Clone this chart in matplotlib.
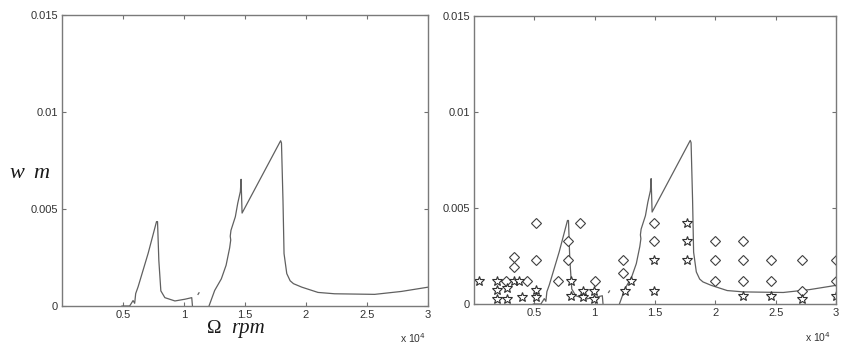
import numpy as np
import matplotlib
matplotlib.use("Agg")
import matplotlib.pyplot as plt

# ---- response curve (segments separated by NaN) ----
curve_x = [4918, 5545, 5825, 5957, 6040, 6238, 7063, 7747, 7830, 7937, 8102, 8432, 9257, 10083, 10635, 10693,
           np.nan, 11150, 11230,
           np.nan, 12050, 12514, 13060, 13450, 13743, 13830, 13790, 13850, 14208, 14406, 14620, 14678, 14760,
           17921, 17990, 18115, 18200, 18424, 18700, 18976, 19662, 20984, 22350, 25628, 27814, 30000]
curve_y = [0.0, 0.0, 0.00028, 0.00014, 0.00064, 0.00099, 0.00272, 0.00435, 0.00435, 0.00235, 0.00078, 0.00043,
           0.00026, 0.00035, 0.00043, 0.0,
           np.nan, 0.0006, 0.00068,
           np.nan, 0.0, 0.0008, 0.0014, 0.0021, 0.0030, 0.0034, 0.0036, 0.0039, 0.0046, 0.0053, 0.0059, 0.00653,
           0.00479,
           0.00852, 0.0084, 0.0054, 0.0027, 0.00167, 0.0013, 0.00115, 0.00097, 0.0007, 0.00063, 0.0006,
           0.00075, 0.00097]

# ---- diamond markers ----
dia_x = [2658, 3297, 3297, 4402, 5150, 5150, 6950, 7800, 7800, 8760, 10000, 12327, 12327,
         14958, 14958, 19945, 19945, 19945, 22300, 22300, 22300, 24654, 24654, 27147, 27147, 30000, 30000]
dia_y = [0.00118, 0.00246, 0.00191, 0.00118, 0.0042, 0.00228, 0.0012, 0.0033, 0.00228, 0.0042, 0.00118,
         0.00228, 0.00164, 0.0042, 0.0033, 0.0033, 0.00228, 0.0012, 0.0033, 0.00228, 0.0012, 0.00228, 0.0012,
         0.00228, 0.00069, 0.00228, 0.00118]

# ---- star markers ----
star_x = [443, 1870, 1870, 1900, 2741, 2741, 3297, 3765, 3959, 5150, 5150,
          8033, 8033, 9003, 9003, 9972, 9972, 12521, 13019, 14958, 14958,
          17645, 17645, 17645, 22300, 24654, 27147, 30000]
star_y = [0.00118, 0.00118, 0.00072, 0.00028, 0.00082, 0.00028, 0.00118, 0.00118, 0.00038, 0.00073, 0.00035,
          0.00118, 0.0004, 0.00069, 0.00035, 0.00069, 0.00026, 0.00069, 0.00118, 0.0023, 0.00069,
          0.0042, 0.0033, 0.0023, 0.0004, 0.0004, 0.00026, 0.0004]

xticks = [5000, 10000, 15000, 20000, 25000, 30000]
xticklabels = ["0.5", "1", "1.5", "2", "2.5", "3"]
yticks = [0, 0.005, 0.01, 0.015]
yticklabels = ["0", "0.005", "0.01", "0.015"]

fig = plt.figure(figsize=(8.47, 3.58), dpi=100)
W, H = 847, 358

def make_ax(l, r, t, b):
    ax = fig.add_axes([l / W, 1 - b / H, (r - l) / W, (b - t) / H])
    ax.set_xlim(0, 30000)
    ax.set_ylim(0, 0.015)
    ax.set_xticks(xticks)
    ax.set_xticklabels(xticklabels)
    ax.set_yticks(yticks)
    ax.set_yticklabels(yticklabels)
    ax.tick_params(direction="in", length=3, width=0.8, top=True, right=True,
                   colors="#707070", labelcolor="#333333", labelsize=8, pad=3)
    for lab in ax.get_xticklabels() + ax.get_yticklabels():
        lab.set_family("Liberation Sans")
    for s in ax.spines.values():
        s.set_color("#7a7a7a")
        s.set_linewidth(1.0)
    ax.plot(curve_x, curve_y, color="#606060", lw=0.9)
    return ax

ax1 = make_ax(62, 428, 15, 306)
ax2 = make_ax(474, 836, 16, 304)

ax2.plot(dia_x, dia_y, linestyle="none", marker="D", markersize=5.2, mfc="white",
         mec="#404040", mew=0.8)
ax2.plot(star_x, star_y, linestyle="none", marker="*", markersize=7.5, mfc="white",
         mec="#303030", mew=0.8)

# multiplier labels
fig.text(413 / W, 1 - 338 / H, r"x 10$^4$", fontsize=7.5, color="#333333",
         family="Liberation Sans", ha="center", va="center")
fig.text(818 / W, 1 - 337 / H, r"x 10$^4$", fontsize=7.5, color="#333333",
         family="Liberation Sans", ha="center", va="center")

# axis labels
fig.text(207 / W, 1 - 333 / H, "\u03a9", fontsize=14, color="#1a1a1a",
         family="Liberation Serif", ha="left", va="baseline")
fig.text(231 / W, 1 - 333 / H, "rpm", fontsize=15, color="#1a1a1a", style="italic",
         family="Liberation Serif", ha="left", va="baseline")
fig.text(9 / W, 1 - 178 / H, "w", fontsize=16, color="#1a1a1a", style="italic",
         family="Liberation Serif", ha="left", va="baseline")
fig.text(33 / W, 1 - 178 / H, "m", fontsize=16, color="#1a1a1a", style="italic",
         family="Liberation Serif", ha="left", va="baseline")

fig.savefig("out.png", dpi=100)
